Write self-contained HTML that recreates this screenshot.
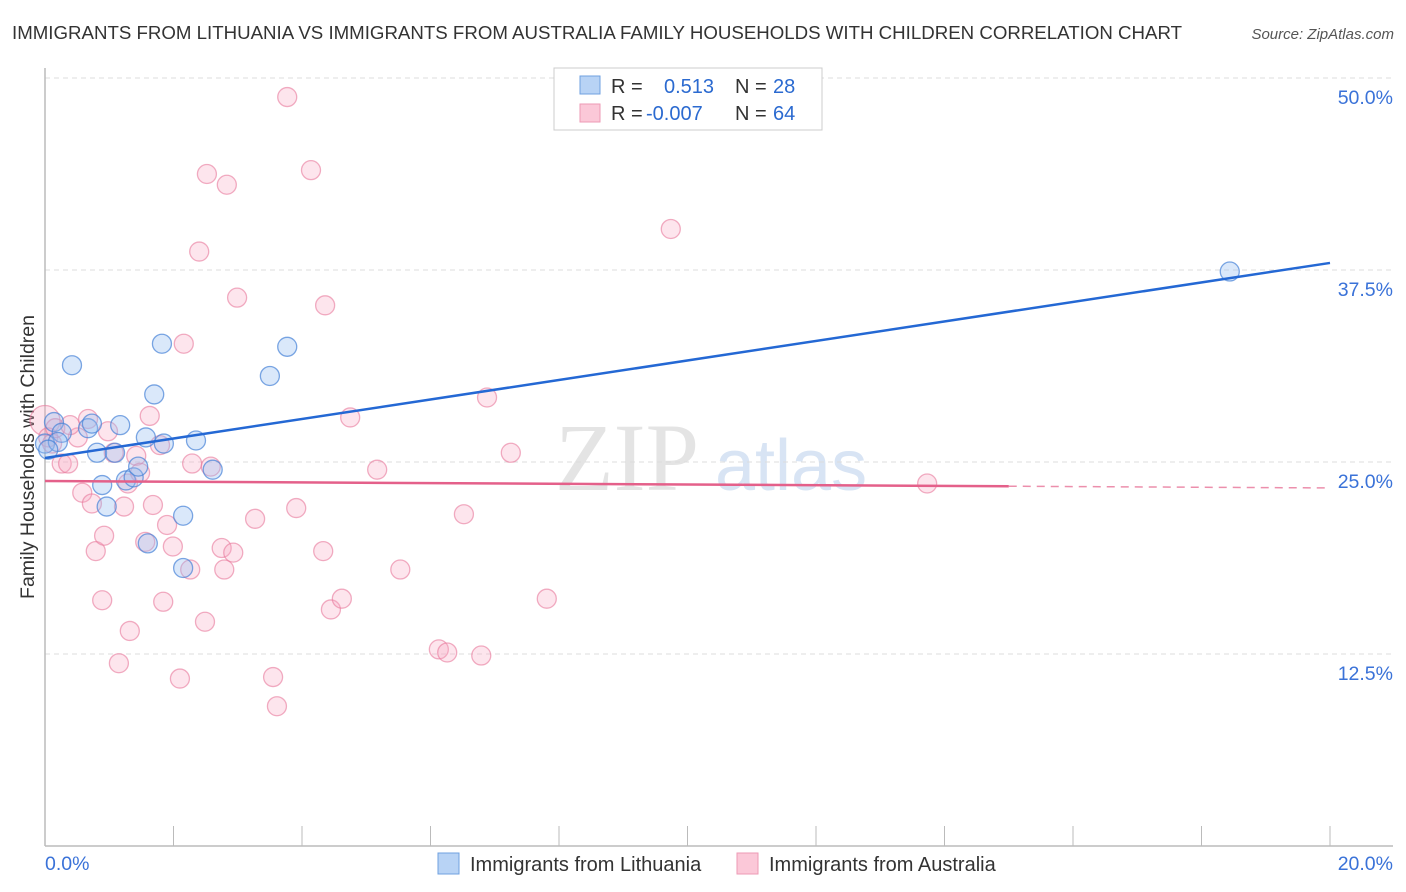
<!DOCTYPE html>
<html><head><meta charset="utf-8"><style>
body{margin:0;background:#fff;font-family:"Liberation Sans",sans-serif;}
svg{display:block}
</style></head><body>
<svg id="chart" width="1406" height="892" xmlns="http://www.w3.org/2000/svg" font-family="Liberation Sans, sans-serif">
<text x="12" y="39" font-size="18.6" fill="#333" textLength="1170" lengthAdjust="spacingAndGlyphs">IMMIGRANTS FROM LITHUANIA VS IMMIGRANTS FROM AUSTRALIA FAMILY HOUSEHOLDS WITH CHILDREN CORRELATION CHART</text>
<text x="1394" y="39" font-size="15" font-style="italic" fill="#555" text-anchor="end">Source: ZipAtlas.com</text>
<text transform="translate(34,457) rotate(-90)" font-size="19.5" fill="#333" text-anchor="middle">Family Households with Children</text>
<g><text x="555" y="490" font-size="96" font-family="Liberation Serif, serif" fill="#e4e4e4">ZIP</text><text x="715" y="490" font-size="72" fill="#d8e4f4">atlas</text></g>
<g id="grid"></g><g id="axes"></g><g id="points"></g><g id="lines"></g>
<g>
<rect x="554" y="68" width="268" height="62" fill="#fff" stroke="#ccc"/>
<rect x="580" y="76" width="20" height="18" fill="#b8d3f5" stroke="#6fa0e0"/>
<rect x="580" y="104" width="20" height="18" fill="#fbc8d8" stroke="#ee9ab5"/>
<text x="611" y="93" font-size="20" fill="#333">R = </text><text x="664" y="93" font-size="20" fill="#2b6ad0">0.513</text>
<text x="735" y="93" font-size="20" fill="#333">N = </text><text x="773" y="93" font-size="20" fill="#2b6ad0">28</text>
<text x="611" y="120" font-size="20" fill="#333">R = </text><text x="646" y="120" font-size="20" fill="#2b6ad0">-0.007</text>
<text x="735" y="120" font-size="20" fill="#333">N = </text><text x="773" y="120" font-size="20" fill="#2b6ad0">64</text>
</g>
<g>
<rect x="438" y="853" width="21" height="21" fill="#b8d3f5" stroke="#6fa0e0"/>
<text x="470" y="871" font-size="20" fill="#333">Immigrants from Lithuania</text>
<rect x="737" y="853" width="21" height="21" fill="#fbc8d8" stroke="#ee9ab5"/>
<text x="769" y="871" font-size="20" fill="#333">Immigrants from Australia</text>
</g>
</svg>
<script>
const yTicks=[12.5,25,37.5,50];
const yTickLabels=["12.5%","25.0%","37.5%","50.0%"];
const xTickValues=[0,2,4,6,8,10,12,14,16,18,20];
const xEndLabels=["0.0%","20.0%"];
const lithX=[0.14,0.26,0.42,0.67,0.73,0.81,0.89,0.96,1.09,1.17,1.26,1.38,1.45,1.57,1.60,1.70,1.82,1.85,2.15,2.15,2.35,2.61,3.50,3.77,18.44,0.0,0.20,0.05];
const lithY=[27.6,26.9,31.3,27.2,27.5,25.6,23.5,22.1,25.6,27.4,23.8,24.0,24.7,26.6,19.7,29.4,32.7,26.2,21.5,18.1,26.4,24.5,30.6,32.5,37.4,26.2,26.3,25.8];
const ausX=[0.0,0.05,0.11,0.26,0.36,0.51,0.58,0.67,0.73,0.79,0.89,0.92,0.98,1.07,1.15,1.23,1.29,1.32,1.42,1.48,1.56,1.63,1.68,1.79,1.84,1.90,1.99,2.10,2.16,2.26,2.29,2.40,2.49,2.52,2.58,2.75,2.79,2.83,2.93,2.99,3.27,3.55,3.61,3.77,3.91,4.14,4.33,4.36,4.45,4.62,4.75,5.17,5.53,6.13,6.26,6.52,6.79,6.88,7.25,7.81,9.74,13.73,0.16,0.39];
const ausY=[27.7,26.6,26.2,24.9,24.9,26.6,23.0,27.8,22.3,19.2,16.0,20.2,27.0,25.6,11.9,22.1,23.6,14.0,25.4,24.3,19.8,28.0,22.2,26.1,15.9,20.9,19.5,10.9,32.7,18.0,24.9,38.7,14.6,43.75,24.7,19.4,18.0,43.05,19.1,35.7,21.3,11.0,9.1,48.76,22.0,44.0,19.2,35.2,15.4,16.1,27.9,24.5,18.0,12.8,12.6,21.6,12.4,29.2,25.6,16.1,40.17,23.6,27.2,27.4];
const trendLith=[25.26,37.96];
const trendAus=[23.76,23.31];
const solidEndAus=15.0;

const NS="http://www.w3.org/2000/svg";
const X0=45,X1=1330,Y0=846,YTOP=78;
const xs=v=>X0+(v/20)*(X1-X0);
const ys=v=>Y0-(v/50)*(Y0-YTOP);
function mk(tag,attrs,parent){const e=document.createElementNS(NS,tag);for(const k in attrs)e.setAttribute(k,attrs[k]);document.getElementById(parent).appendChild(e);return e;}
yTicks.forEach((t,i)=>{
 const g=mk('line',{x1:X0,x2:1393,y1:ys(t),y2:ys(t),stroke:'#ddd','stroke-dasharray':'5,4'},'grid');
 
 
 const l=mk('text',{x:1393,y:ys(t)+26,'font-size':19.5,fill:'#3a72d8','text-anchor':'end'},'axes');
 l.textContent=yTickLabels[i];
 
 
});
const ax=mk('line',{x1:X0,x2:1393,y1:Y0,y2:Y0,stroke:'#bbb','stroke-width':1.5},'axes');


const ay=mk('line',{x1:X0,x2:X0,y1:68,y2:Y0,stroke:'#bbb','stroke-width':1.5},'axes');


xTickValues.forEach(v=>{
 const t=mk('line',{x1:xs(v),x2:xs(v),y1:826,y2:Y0,stroke:'#bbb'},'axes');
 
 
});
const xl0=mk('text',{x:X0,y:870,'font-size':19.5,fill:'#3a72d8'},'axes');xl0.textContent=xEndLabels[0];


const xl1=mk('text',{x:1393,y:870,'font-size':19.5,fill:'#3a72d8','text-anchor':'end'},'axes');xl1.textContent=xEndLabels[1];


ausX.forEach((x,i)=>{
 const c=mk('circle',{cx:xs(x),cy:ys(ausY[i]),r:i===0?15:9.5,fill:'rgba(247,170,195,0.3)',stroke:'rgba(232,120,155,0.6)','stroke-width':1.3},'points');
 
 
});
lithX.forEach((x,i)=>{
 const c=mk('circle',{cx:xs(x),cy:ys(lithY[i]),r:9.5,fill:'rgba(150,190,240,0.35)',stroke:'rgba(70,130,215,0.7)','stroke-width':1.3},'points');
 
 
});
const bl=mk('line',{x1:xs(0),y1:ys(trendLith[0]),x2:xs(20),y2:ys(trendLith[1]),stroke:'#2468d4','stroke-width':2.5},'lines');


const pAt=x=>trendAus[0]+(trendAus[1]-trendAus[0])*x/20;
const pl=mk('line',{x1:xs(0),y1:ys(trendAus[0]),x2:xs(solidEndAus),y2:ys(pAt(solidEndAus)),stroke:'#e4608a','stroke-width':2.5},'lines');


const pd=mk('line',{x1:xs(solidEndAus),y1:ys(pAt(solidEndAus)),x2:xs(20),y2:ys(trendAus[1]),stroke:'#e4608a','stroke-width':1.5,'stroke-dasharray':'8,6','opacity':0.7},'lines');


</script>
</body></html>
